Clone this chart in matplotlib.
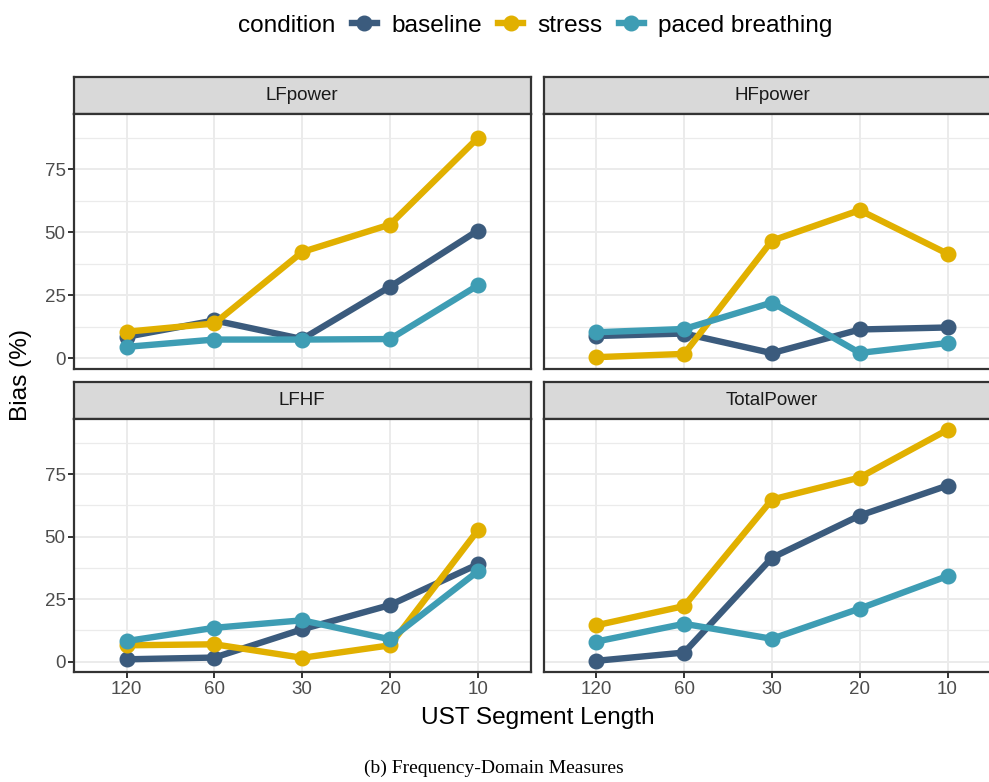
import matplotlib
matplotlib.use("Agg")
import matplotlib.pyplot as plt
from matplotlib.lines import Line2D

# ---- data ----
segments = ["120", "60", "30", "20", "10"]
conditions = ["baseline", "stress", "paced breathing"]
measures = ["LFpower", "HFpower", "LFHF", "TotalPower"]

lf_baseline = [8.5, 15.0, 7.6, 28.4, 50.7]
lf_stress = [10.5, 13.8, 42.2, 53.1, 87.5]
lf_paced = [4.5, 7.4, 7.4, 7.6, 28.9]

hf_baseline = [8.8, 9.8, 2.0, 11.4, 12.2]
hf_stress = [0.4, 1.7, 46.7, 58.8, 41.5]
hf_paced = [10.3, 11.6, 22.1, 2.1, 6.0]

lfhf_baseline = [0.9, 1.6, 12.9, 22.6, 38.9]
lfhf_stress = [6.5, 6.9, 1.5, 6.5, 52.5]
lfhf_paced = [8.2, 13.5, 16.5, 8.9, 36.1]

tp_baseline = [0.3, 3.6, 41.5, 58.4, 70.4]
tp_stress = [14.5, 22.2, 64.8, 73.6, 92.7]
tp_paced = [8.0, 15.1, 9.1, 21.2, 34.2]

data = {
    "LFpower": [lf_baseline, lf_stress, lf_paced],
    "HFpower": [hf_baseline, hf_stress, hf_paced],
    "LFHF": [lfhf_baseline, lfhf_stress, lfhf_paced],
    "TotalPower": [tp_baseline, tp_stress, tp_paced],
}
y_ticks = [0, 25, 50, 75]
y_minor = [12.5, 37.5, 62.5, 87.5]

colors = ["#3b5b7d", "#e1b000", "#3e9db4"]

# ---- layout ----
W, H = 989, 782
fig = plt.figure(figsize=(W / 100, H / 100), dpi=100)
plt.rcParams['font.family'] = ['Liberation Sans', 'DejaVu Sans']

def box(x0, y0, x1, y1):
    return [x0 / W, 1 - y1 / H, (x1 - x0) / W, (y1 - y0) / H]

panel_w = 456.5
cols_x = [74.0, 543.7]
rows = [(76.7, 114.3, 369.0), (381.7, 419.3, 672.3)]
edge = "#333333"
x = list(range(1, len(segments) + 1))
tick_fs = 13.5

for i, m in enumerate(measures):
    r, c = divmod(i, 2)
    x0 = cols_x[c]
    x1 = x0 + panel_w
    s0, s1, p1 = rows[r]
    # strip
    sax = fig.add_axes(box(x0, s0, x1, s1))
    sax.set_facecolor("#d9d9d9")
    sax.set_xticks([]); sax.set_yticks([])
    for sp in sax.spines.values():
        sp.set_color(edge); sp.set_linewidth(1.6)
    sax.text(0.5, 0.5, m, transform=sax.transAxes, ha="center", va="center",
             fontsize=13.5, color="#1a1a1a")
    # panel
    ax = fig.add_axes(box(x0, s1, x1, p1))
    ax.set_xlim(0.4, 5.6)
    ax.set_ylim(-4.3, 96.9)
    ax.set_yticks(y_ticks)
    ax.set_yticks(y_minor, minor=True)
    ax.set_xticks(x)
    ax.grid(True, which="major", color="#ebebeb", linewidth=1.4, zorder=0)
    ax.grid(True, which="minor", axis="y", color="#ebebeb", linewidth=0.9, zorder=0)
    ax.set_axisbelow(True)
    ax.tick_params(which="minor", length=0)
    for sp in ax.spines.values():
        sp.set_color(edge); sp.set_linewidth(1.6)
    for k, cond in enumerate(conditions):
        ax.plot(x, data[m][k], color=colors[k], linewidth=4.6, marker="o",
                markersize=10.5, solid_capstyle="butt", zorder=3 + k)
    if c == 0:
        ax.set_yticklabels([str(t) for t in y_ticks], fontsize=tick_fs, color="#4d4d4d")
        ax.tick_params(axis="y", length=4, width=1.4, color=edge, pad=2)
    else:
        ax.tick_params(axis="y", length=0, labelleft=False)
    if r == 1:
        ax.set_xticklabels(segments, fontsize=tick_fs, color="#4d4d4d")
        ax.tick_params(axis="x", length=4, width=1.4, color=edge, pad=2)
    else:
        ax.tick_params(axis="x", length=0, labelbottom=False)

# axis titles
fig.text(21 / W, 1 - 375 / H, "Bias (%)", rotation=90, ha="center", va="center",
         fontsize=17.6, color="#000000")
fig.text(538 / W, 1 - 718 / H, "UST Segment Length", ha="center", va="center",
         fontsize=17.6, color="#000000")

# legend
fig.text(238 / W, 1 - 26 / H, "condition", ha="left", va="center", fontsize=17.6)
handles = [Line2D([0], [0], color=col, linewidth=4.6, marker="o", markersize=10.5)
           for col in colors]
fig.legend(handles, conditions, loc="center left", bbox_to_anchor=(352 / W, 1 - 26 / H),
           ncol=3, frameon=False, fontsize=17.6, handlelength=1.02, handletextpad=0.6,
           columnspacing=0.65, borderaxespad=0, borderpad=0)

# caption
fig.text(494 / W, 1 - 768 / H, "(b) Frequency-Domain Measures", ha="center", va="center",
         fontsize=14, family=["Liberation Serif", "DejaVu Serif"])

fig.savefig("out.png", dpi=100)
